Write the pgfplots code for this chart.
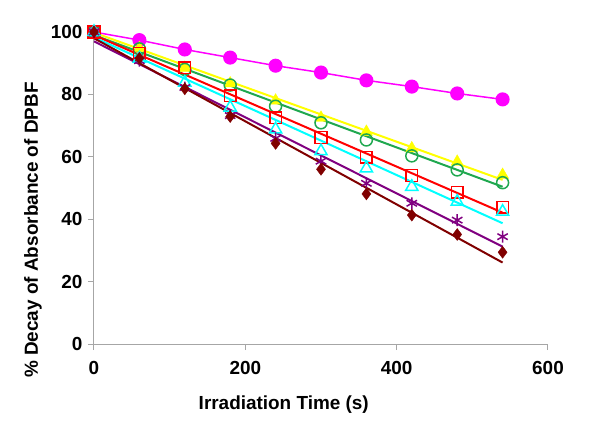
\documentclass[border=0pt]{standalone}
\usepackage{pgfplots}
\pgfplotsset{compat=1.18}
\usepackage{fontspec}
\setmainfont{Liberation Sans}

\definecolor{cMag}{HTML}{FF00FF}
\definecolor{cYel}{HTML}{FFFF00}
\definecolor{cGrn}{HTML}{1FA84F}
\definecolor{cRed}{HTML}{FF0000}
\definecolor{cCya}{HTML}{00FFFF}
\definecolor{cPur}{HTML}{800080}
\definecolor{cBrn}{HTML}{800000}
\definecolor{axgray}{HTML}{A6A6A6}

\begin{document}
\begin{tikzpicture}
\useasboundingbox (-94bp,-92bp) rectangle (506bp,344bp);
\begin{axis}[
    at={(0,0)}, anchor=south west,
    scale only axis, width=454bp, height=312bp,
    xmin=0, xmax=600, ymin=0, ymax=100,
    axis x line*=bottom, axis y line*=left,
    axis line style={draw=axgray, line width=1bp},
    tick align=outside, major tick length=6bp,
    tick style={draw=axgray, line width=1bp},
    xtick={0,200,400,600}, ytick={0,20,40,60,80,100},
    font=\fontsize{19}{22}\selectfont\bfseries,
    /pgf/number format/assume math mode=true,
    ticklabel style={font=\fontsize{19}{22}\selectfont\bfseries},
    xticklabel style={yshift=-8bp},
    yticklabel style={xshift=-2bp},
    xlabel={Irradiation Time (s)},
    ylabel={\% Decay of Absorbance of DPBF},
    xlabel style={at={(axis description cs:0.418,-0.1955)}, anchor=center},
    ylabel style={at={(axis description cs:-0.1344,0.365)}, anchor=center},
    clip=false,
]
% magenta, joined points
\addplot[cMag, line width=1.5bp, mark=*, mark size=6.3bp, mark options={fill=cMag, draw=cMag}] coordinates {
(0,100) (60,97.4) (120,94.4) (180,91.8) (240,89.2) (300,87.0) (360,84.5) (420,82.5) (480,80.3) (540,78.4)
};
% yellow filled triangles + fit
\addplot[only marks, mark=triangle*, mark size=7bp, mark options={fill=cYel, draw=cYel}] coordinates {
(0,100) (60,94.8) (120,88.5) (180,83.5) (240,78.0) (300,72.5) (360,68.0) (420,62.7) (480,58.4) (540,54.2)
};
\addplot[cYel, line width=2bp] coordinates {(0,99.8) (540,52.6)};
% green open circles + fit
\addplot[only marks, mark=o, mark size=6bp, mark options={draw=cGrn, line width=1.5bp}] coordinates {
(0,100) (60,94.6) (120,88.0) (180,83.0) (240,76.2) (300,70.9) (360,65.4) (420,60.3) (480,55.8) (540,51.7)
};
\addplot[cGrn, line width=2bp] coordinates {(0,99.0) (540,50.4)};
% red open squares + fit
\addplot[only marks, mark=square, mark size=5.8bp, mark options={draw=cRed, line width=1.5bp}] coordinates {
(0,100) (60,93.2) (120,88.6) (180,79.6) (240,72.5) (300,66.2) (360,59.8) (420,54.0) (480,48.6) (540,43.8)
};
\addplot[cRed, line width=2bp] coordinates {(0,99.0) (540,42.1)};
% cyan open triangles + fit
\addplot[only marks, mark=triangle, mark size=7bp, mark options={draw=cCya, line width=1.5bp}] coordinates {
(0,100) (60,91.5) (120,83.8) (180,75.8) (240,68.8) (300,61.8) (360,56.3) (420,50.4) (480,45.6) (540,42.4)
};
\addplot[cCya, line width=2bp] coordinates {(0,98.3) (540,38.7)};
% purple asterisks + fit
\addplot[only marks, mark=asterisk, mark size=6bp, mark options={draw=cPur, line width=1.5bp}] coordinates {
(0,100) (60,90.8) (120,82.2) (180,73.2) (240,65.9) (300,58.6) (360,51.5) (420,45.1) (480,39.7) (540,34.4)
};
\addplot[cPur, line width=2bp] coordinates {(0,97.0) (540,31.2)};
% brown diamonds + fit
\addplot[only marks, mark=diamond*, mark size=6bp, mark options={fill=cBrn, draw=cBrn}] coordinates {
(0,100) (60,91.6) (120,81.8) (180,72.9) (240,64.3) (300,56.0) (360,48.1) (420,41.3) (480,35.1) (540,29.4)
};
\addplot[cBrn, line width=2bp] coordinates {(0,98.0) (540,26.1)};
\end{axis}
\end{tikzpicture}
\end{document}
